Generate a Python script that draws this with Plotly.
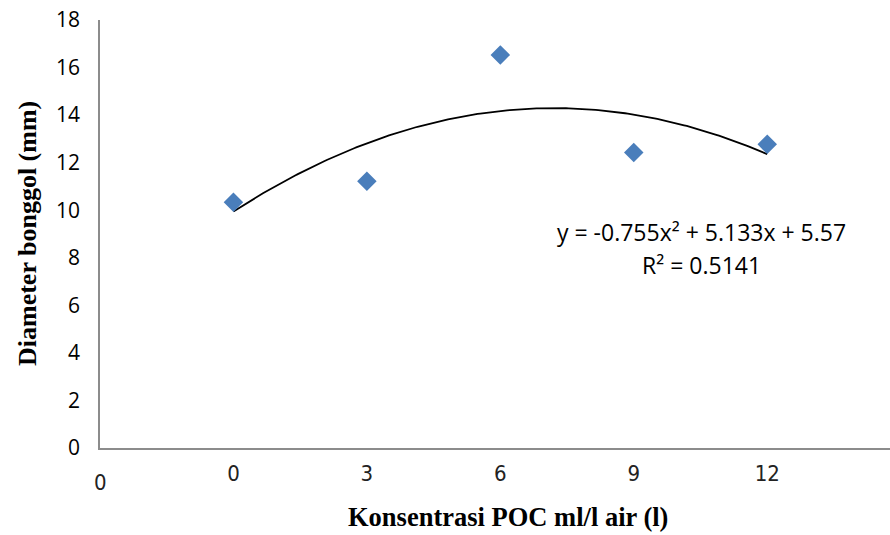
import numpy as np
import plotly.graph_objects as go

# Data
x_pos = [1, 2, 3, 4, 5]
x_labels = ["0", "3", "6", "9", "12"]
diameter = [10.34, 11.22, 16.53, 12.43, 12.77]

# Trendline coefficients as printed on the chart: y = a x^2 + b x + c
coef_a, coef_b, coef_c = -0.755, 5.133, 5.57
eq_text = "y = -0.755x² + 5.133x + 5.57"
r2_text = "R² = 0.5141"

y_ticks = [0, 2, 4, 6, 8, 10, 12, 14, 16, 18]

xt = np.linspace(min(x_pos), max(x_pos), 200)
yt = coef_a * xt**2 + coef_b * xt + coef_c

fig = go.Figure()
fig.add_trace(go.Scatter(
    x=xt, y=yt, mode="lines",
    line=dict(color="black", width=1.8),
    hoverinfo="skip", showlegend=False,
))
fig.add_trace(go.Scatter(
    x=x_pos, y=diameter, mode="markers",
    marker=dict(symbol="diamond", size=15, color="#4A7EBB", line=dict(width=0)),
    showlegend=False,
))

axis_grey = "#8C8C8C"
narrow = "Liberation Sans Narrow, DejaVu Sans Condensed, sans-serif"
fig.update_layout(
    width=890, height=535,
    margin=dict(l=100, r=0, t=20, b=87),
    paper_bgcolor="white", plot_bgcolor="white",
    xaxis=dict(
        range=[0, 5.92], showgrid=False, zeroline=False,
        showline=True, linecolor=axis_grey, linewidth=1.5,
        tickvals=x_pos, ticktext=x_labels, ticks="",
        ticklabelstandoff=5,
        tickfont=dict(family=narrow, size=22, color="#222"),
    ),
    yaxis=dict(
        range=[0, 18], showgrid=False, zeroline=False,
        showline=True, linecolor=axis_grey, linewidth=1.5,
        tickvals=y_ticks, ticks="", ticklabelstandoff=14,
        tickfont=dict(family="Open Sans, sans-serif", size=21, color="black"),
    ),
    font=dict(family="Open Sans, sans-serif", color="black"),
)

def px_x(p):
    return (p - 100) / 790

def px_y(p):
    return (448 - p) / 428

annotations = [
    dict(x=0.0, y=0, xref="x", yref="paper", text="0", showarrow=False,
         xanchor="center", yanchor="middle", yshift=-34,
         font=dict(family=narrow, size=22, color="#222")),
    dict(x=px_x(701), y=px_y(232), xref="paper", yref="paper", text=eq_text,
         showarrow=False, xanchor="center", yanchor="middle",
         font=dict(size=23, color="black")),
    dict(x=px_x(701), y=px_y(265), xref="paper", yref="paper", text=r2_text,
         showarrow=False, xanchor="center", yanchor="middle",
         font=dict(size=23, color="black")),
    dict(x=px_x(508), y=px_y(517), xref="paper", yref="paper",
         text="<b>Konsentrasi POC ml/l air (l)</b>", showarrow=False,
         xanchor="center", yanchor="middle",
         font=dict(family="Liberation Serif, serif", size=26.5, color="black")),
    dict(x=px_x(27), y=px_y(234), xref="paper", yref="paper",
         text="<b>Diameter bonggol (mm)</b>", showarrow=False, textangle=-90,
         xanchor="center", yanchor="middle",
         font=dict(family="Liberation Serif, serif", size=26, color="black")),
]
fig.update_layout(annotations=annotations)

fig.write_html("out.html")
